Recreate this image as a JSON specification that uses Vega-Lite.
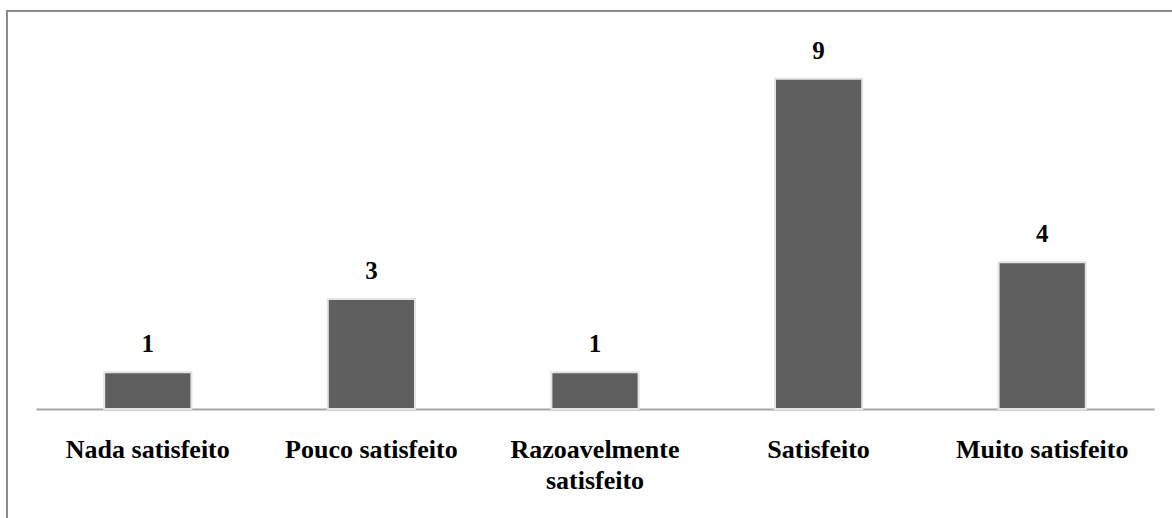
{
  "$schema": "https://vega.github.io/schema/vega-lite/v6.json",
  "autosize": "none",
  "width": 1180,
  "height": 520,
  "padding": {"left": 7, "top": 11, "right": 0, "bottom": 0},
  "background": "white",
  "data": {"values": [
    {"categoria": "Nada satisfeito", "valor": 1},
    {"categoria": "Pouco satisfeito", "valor": 3},
    {"categoria": "Razoavelmente satisfeito", "valor": 1},
    {"categoria": "Satisfeito", "valor": 9},
    {"categoria": "Muito satisfeito", "valor": 4}
  ]},
  "encoding": {
    "x": {
      "field": "categoria", "type": "nominal", "sort": null,
      "scale": {"range": [29, 1147], "paddingInner": 0.61, "paddingOuter": 0.305},
      "axis": {
        "title": null, "labelAngle": 0, "ticks": false, "tickSize": 0,
        "offset": -122,
        "domainColor": "#a6a6a6", "domainWidth": 2,
        "labelFont": "Liberation Serif", "labelFontWeight": "bold", "labelFontSize": 26,
        "labelColor": "#000000", "labelPadding": 27, "labelLimit": 400, "labelLineHeight": 31,
        "labelExpr": "datum.label == 'Razoavelmente satisfeito' ? ['Razoavelmente', 'satisfeito'] : datum.label"
      }
    },
    "y": {
      "field": "valor", "type": "quantitative",
      "scale": {"domain": [0, 10], "range": [398, 31], "nice": false},
      "axis": null
    }
  },
  "layer": [
    {"mark": {"type": "bar", "color": "#5f5f5f", "stroke": "#e4e4e4", "strokeWidth": 2}},
    {"mark": {"type": "text", "dy": -20, "baseline": "alphabetic", "font": "Liberation Serif", "fontWeight": "bold", "fontSize": 25, "color": "#000000"},
     "encoding": {"text": {"field": "valor", "type": "quantitative"}}}
  ],
  "config": {
    "view": {"stroke": "#8c8c8c", "strokeWidth": 2}
  }
}
